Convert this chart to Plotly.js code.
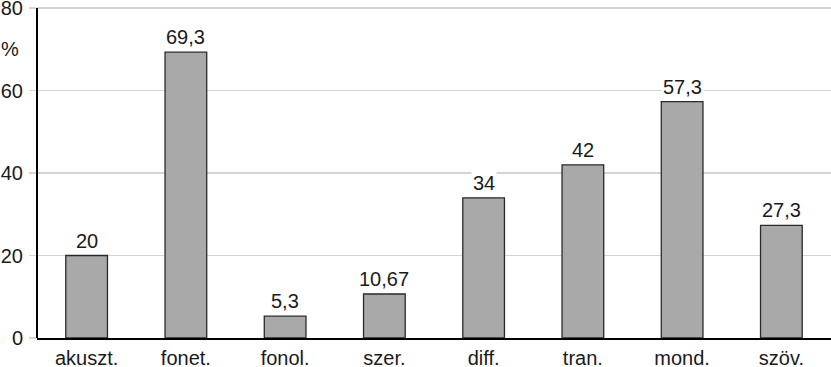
<!DOCTYPE html>
<html><head><meta charset="utf-8">
<script src="https://cdn.plot.ly/plotly-3.0.1.min.js"></script>
<style>html,body{margin:0;padding:0;background:#fff}#c{width:831px;height:367px}</style>
</head><body><div id="c"></div>
<script>
const categories = ["akuszt.","fonet.","fonol.","szer.","diff.","tran.","mond.","szöv."];
const values = [20, 69.3, 5.3, 10.67, 34, 42, 57.3, 27.3];
const valueLabels = ["20","69,3","5,3","10,67","34","42","57,3","27,3"];
const yTicks = [0,20,40,60,80];

const font = {family: "Liberation Sans, Arial, sans-serif", size: 20, color: "#1a1a1a"};
const trace = {
  type: "bar", x: categories, y: values,
  marker: {color: "#a9a9a9", line: {color: "#2a2a2a", width: 1.3}},
  hoverinfo: "none"
};
const annotations = categories.map((c,i)=>({
  x: c, y: values[i], xref: "x", yref: "y", text: valueLabels[i],
  showarrow: false, yanchor: "bottom", yshift: 2, bgcolor: "#ffffff",
  borderpad: 1, font: font
}));
annotations.push({xref:"paper", yref:"y", x:0, xanchor:"right", xshift:-16, y:70, text:"%", showarrow:false, font:font});
const layout = {
  width: 831, height: 367,
  margin: {l: 37, r: 0, t: 6, b: 29, pad: 0},
  paper_bgcolor: "#fff", plot_bgcolor: "#fff",
  showlegend: false, bargap: 0.58,
  font: font,
  xaxis: {type: "category", range: [-0.5, 7.5], showline: true, linecolor: "#000", linewidth: 2,
          ticks: "", showgrid: false, tickfont: font, ticklabelstandoff: 1, fixedrange: true},
  yaxis: {range: [0, 80.5], tickvals: yTicks, ticktext: yTicks.map(String), showline: false,
          showgrid: true, gridcolor: "#d4d4d4", gridwidth: 1.2, zeroline: false,
          ticks: "outside", ticklen: 7, tickcolor: "#d4d4d4", tickwidth: 1.2,
          tickfont: font, ticklabelstandoff: 2, ticklabeloverflow: "allow", fixedrange: true},
  shapes: [{type: "line", xref: "paper", yref: "y", x0: 0, x1: 0, y0: 0, y1: 80, line: {color: "#000", width: 2}}],
  annotations: annotations
};
Plotly.newPlot("c", [trace], layout, {displayModeBar: false, staticPlot: true});
</script></body></html>
